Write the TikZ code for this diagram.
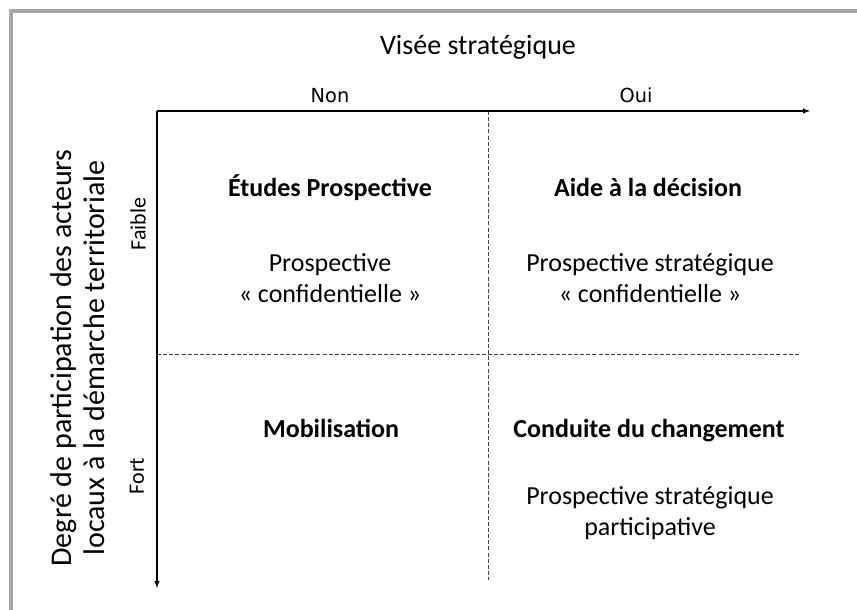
\documentclass[tikz,border=0pt]{standalone}
\usepackage{fontspec}
\setmainfont{Carlito}
\newfontfamily\axisfont{DejaVu Sans}
\colorlet{framegray}{black!35}
\colorlet{dashgray}{black!75}

\begin{document}
\begin{tikzpicture}[x=0.75pt,y=-0.75pt]
\tikzset{AxisStyle/.style ={->,>=latex,line width=0.8pt}}
\tikzset{GridStyle/.style ={dash pattern=on 3pt off 1.6pt,color = dashgray,line width=0.7pt}}
\tikzset{HeadStyle/.style ={font=\fontsize{19.5}{23}\selectfont\bfseries,text height=0.7em,text depth=0.2em}}
\tikzset{TextStyle/.style ={align=center,font=\fontsize{19.5}{23.4}\selectfont}}
\tikzset{LevelStyle/.style ={rotate=90,font=\fontsize{16.5}{20}\selectfont}}
\tikzset{ChoiceStyle/.style ={font=\axisfont\fontsize{14.5}{17}\selectfont,text height=0.75em,text depth=0.2em}}
\useasboundingbox (0,0) rectangle (857,610);
\draw[framegray,line width=3pt] (11,610) -- (11,11) -- (857,11);
% axes
\coordinate (O) at (157,111);
\coordinate (Xend) at (810,111);
\coordinate (Yend) at (157,588);
\coordinate (MidTop) at (488,111);
\coordinate (MidBot) at (488,580);
\coordinate (MidLeft) at (157,354);
\coordinate (MidRight) at (800,354);
\draw[GridStyle] (MidTop) -- (MidBot);
\draw[GridStyle] (MidLeft) -- (MidRight);
\draw[AxisStyle] (O) -- (Xend);
\draw[AxisStyle] (O) -- (Yend);
% axis labels
\node[font=\fontsize{21}{25}\selectfont] (Visee) at (478,47) {Visée stratégique};
\node[ChoiceStyle] (Non) at (330,99) {Non};
\node[ChoiceStyle] (Oui) at (636,99) {Oui};
\node[rotate=90,align=center,font=\fontsize{22.5}{24.8}\selectfont] (Degre) at (78,358)
  {Degré de participation des acteurs\\locaux à la démarche territoriale};
\node[LevelStyle] (Faible) at (138,224) {Faible};
\node[LevelStyle] (Fort) at (137,476) {Fort};
% quadrants
\node[HeadStyle] (Etudes) at (330,193) {Études Prospective};
\node[TextStyle] (Confid) at (330,278) {Prospective\\« confidentielle »};
\node[HeadStyle] (Aide) at (648,193) {Aide à la décision};
\node[TextStyle] (StratConfid) at (650,278) {Prospective stratégique\\« confidentielle »};
\node[HeadStyle] (Mobil) at (331,434) {Mobilisation};
\node[HeadStyle] (Conduite) at (649,434) {Conduite du changement};
\node[TextStyle] (StratPart) at (650,513) {Prospective stratégique\\participative};
\end{tikzpicture}
\end{document}
